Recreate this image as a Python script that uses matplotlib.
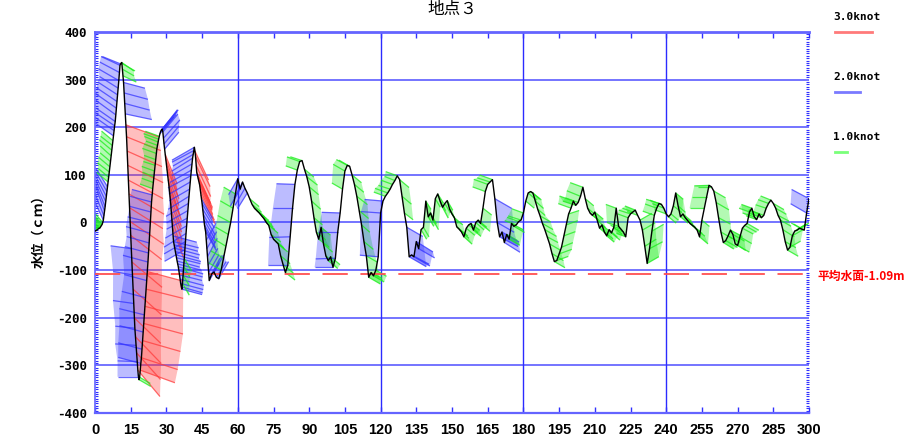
import numpy as np
import matplotlib.pyplot as plt
from matplotlib.collections import LineCollection, PolyCollection
from matplotlib.lines import Line2D
from matplotlib.ticker import MultipleLocator

# water level (cm): every 0.25 from t=0 to 47.75, then every 1 from t=48 to 300
level_early = [
    -18, -17, -17, -16, -15, -14, -13, -12,
    -12, -10, -8, -6, -4, 0, 5, 14,
    24, 33, 44, 55, 65, 75, 85, 95,
    106, 117, 128, 140, 152, 162, 172, 182,
    193, 203, 212, 226, 240, 254, 268, 282,
    298, 315, 330, 333, 335, 336, 322, 308,
    294, 272, 250, 228, 205, 180, 150, 120,
    89, 60, 31, 2, -27, -55, -83, -110,
    -140, -170, -200, -222, -240, -258, -274, -292,
    -310, -324, -330, -325, -310, -296, -284, -266,
    -248, -230, -212, -194, -176, -158, -140, -122,
    -103, -83, -64, -43, -22, 0, 22, 43,
    58, 71, 84, 96, 108, 120, 132, 145,
    155, 162, 169, 175, 181, 186, 190, 193,
    195, 196, 190, 177, 165, 154, 143, 133,
    122, 112, 101, 90, 80, 68, 57, 43,
    26, 8, -10, -28, -40, -47, -54, -61,
    -68, -74, -81, -87, -93, -101, -110, -119,
    -128, -135, -140, -128, -110, -92, -75, -57,
    -40, -23, -7, 9, 25, 40, 55, 70,
    85, 98, 110, 123, 135, 143, 151, 158,
    150, 138, 120, 105, 100, 94, 89, 84,
    78, 68, 58, 49, 40, 28, 17, 6,
    -5, -12, -20, -37, -55, -72, -90, -105,
]
level_late = [
    -122, -108, -104, -115, -118, -100, -75, -50, -25, 0,
    30, 60, 92, 70, 85, 72, 62, 50, 38, 30,
    25, 20, 14, 8, 0, -6, -25, -35, -40, -45,
    -70, -88, -105, -90, -30, 30, 80, 110, 128, 130,
    112, 96, 75, 45, 10, -20, -35, -10, -45, -70,
    -80, -72, -94, -75, -20, 20, 70, 108, 120, 118,
    100, 80, 55, 25, -5, -40, -70, -115, -105, -112,
    -100, -72, 20, 45, 55, 62, 70, 80, 88, 98,
    90, 55, 20, -10, -72, -68, -72, -40, -55, -15,
    -10, 45, 12, 20, 5, 50, 60, 45, 32, 40,
    46, 28, 18, 10, -9, -14, -20, -30, -12, -5,
    -2, -16, 0, 5, -2, 30, 65, 80, 85, 90,
    50, 0, -30, -20, -42, -25, -35, -2, -8, -5,
    2, 5, 20, 45, 62, 65, 62, 45, 28, 14,
    -2, -15, -30, -45, -65, -82, -80, -66, -52, -28,
    -5, 18, 30, 45, 36, 42, 55, 74, 50, 30,
    20, 15, 22, 5, -12, -5, -20, -28, -15, -22,
    -10, 30, -8, -14, -20, -30, 10, 18, 22, 26,
    15, 5, -16, -50, -86, -55, -18, 15, 30, 40,
    38, 30, 18, 12, 18, 35, 62, 35, 12, 18,
    10, 4, -2, -6, -10, -16, -30, 5, 30, 54,
    78, 75, 66, 42, 10, -20, -42, -38, -28, -16,
    -25, -45, -48, -30, -12, -6, -2, 22, 30, 12,
    6, 18, 10, 15, 30, 40, 47, 40, 30, 15,
    5, -15, -40, -58, -52, -28, -18, -16, -12, -14,
    -16, 20, 50,
]

# current speed (0.1 knot) and direction (deg on the chart, 0 = right, 90 = up)
speed_early = [
    9, 10, 10, 11, 10, 10, 11, 10,
    10, 11, 10, 10, 11, 12, 19, 20,
    21, 20, 19, 20, 18, 17, 12, 11,
    12, 12, 11, 12, 13, 12, 12, 18,
    19, 20, 19, 20, 21, 20, 19, 18,
    19, 18, 17, 16, 13, 12, 11, 12,
    18, 20, 21, 22, 28, 30, 31, 32,
    32, 33, 32, 33, 32, 17, 32, 16,
    31, 17, 30, 16, 30, 17, 29, 16,
    28, 17, 11, 10, 30, 19, 31, 20,
    32, 20, 33, 21, 32, 20, 31, 19,
    30, 21, 20, 19, 20, 19, 18, 18,
    17, 11, 10, 10, 11, 10, 10, 12,
    11, 10, 12, 13, 12, 18, 19, 20,
    21, 20, 19, 20, 19, 18, 26, 27,
    27, 26, 27, 28, 27, 26, 27, 26,
    26, 27, 26, 20, 21, 20, 21, 20,
    21, 20, 19, 20, 21, 20, 19, 20,
    19, 18, 17, 11, 10, 10, 12, 19,
    20, 21, 20, 19, 20, 21, 20, 19,
    20, 21, 20, 19, 20, 19, 20, 21,
    26, 27, 28, 27, 26, 27, 26, 25,
    26, 27, 26, 18, 17, 18, 19, 18,
    17, 18, 17, 16, 16, 17, 16, 17,
]
dir_early = [
    125, 128, 130, 130, 132, 130, 128, 130,
    130, 130, 128, 130, 132, 130, 115, 112,
    110, 112, 115, 118, 120, 122, 140, 140,
    142, 140, 140, 138, 140, 142, 140, 145,
    145, 146, 145, 144, 145, 146, 147, 148,
    150, 152, 155, 158, 330, 325, 330, 335,
    345, 345, 345, 348, 340, 338, 336, 334,
    332, 330, 328, 326, 322, 172, 320, 170,
    318, 172, 316, 174, 314, 176, 312, 178,
    310, 180, 330, 330, 340, 165, 342, 165,
    344, 165, 345, 166, 345, 165, 346, 165,
    345, 165, 165, 164, 165, 166, 165, 165,
    165, 160, 160, 158, 160, 162, 160, 160,
    160, 160, 158, 160, 160, 50, 48, 50,
    50, 52, 50, 48, 50, 50, 292, 290,
    290, 292, 290, 288, 290, 292, 290, 290,
    290, 288, 290, 345, 346, 345, 345, 344,
    345, 346, 345, 345, 344, 345, 346, 345,
    345, 344, 345, 300, 300, 300, 300, 210,
    210, 212, 210, 208, 210, 210, 212, 210,
    210, 208, 210, 210, 212, 210, 208, 210,
    295, 296, 295, 294, 295, 296, 295, 295,
    294, 295, 296, 300, 300, 302, 300, 300,
    300, 298, 300, 60, 60, 62, 60, 60,
]
speed_late = [
    16, 17, 16, 15, 16, 12, 12, 11, 12, 12,
    12, 11, 15, 16, 15, 16, 15, 10, 10, 11,
    10, 10, 11, 10, 9, 10, 10, 11, 10, 10,
    10, 11, 10, 16, 17, 16, 15, 10, 11, 10,
    10, 11, 10, 10, 9, 10, 11, 10, 10, 9,
    10, 10, 15, 16, 16, 15, 10, 11, 10, 10,
    10, 10, 11, 10, 9, 10, 10, 11, 10, 10,
    10, 15, 16, 15, 10, 11, 10, 10, 9, 10,
    10, 10, 9, 15, 16, 16, 15, 16, 15, 9,
    9, 8, 9, 10, 9, 8, 9, 9, 10, 9,
    9, 8, 9, 9, 10, 9, 8, 9, 9, 10,
    9, 8, 9, 9, 10, 9, 11, 12, 11, 11,
    16, 16, 17, 16, 15, 10, 10, 11, 10, 10,
    10, 11, 10, 9, 9, 10, 9, 9, 8, 10,
    10, 11, 10, 10, 11, 10, 10, 11, 10, 10,
    10, 9, 11, 12, 11, 11, 12, 11, 9, 9,
    9, 8, 9, 9, 10, 9, 9, 8, 9, 9,
    9, 9, 10, 9, 9, 8, 9, 10, 9, 9,
    9, 11, 12, 11, 11, 12, 11, 10, 10, 11,
    10, 10, 10, 8, 8, 9, 8, 8, 8, 9,
    8, 8, 9, 8, 8, 8, 9, 8, 12, 12,
    12, 11, 11, 12, 11, 11, 10, 11, 11, 11,
    11, 10, 11, 11, 10, 11, 11, 9, 9, 10,
    9, 9, 10, 9, 9, 9, 9, 10, 10, 10,
    10, 11, 10, 10, 10, 10, 11, 10, 10, 10,
    10, 15, 16,
]
dir_late = [
    60, 62, 60, 58, 60, 150, 150, 148, 150, 152,
    150, 150, 240, 240, 242, 240, 238, 320, 320, 320,
    320, 322, 320, 318, 320, 320, 322, 320, 318, 320,
    320, 320, 322, 180, 182, 180, 178, 160, 160, 162,
    320, 322, 320, 318, 320, 320, 322, 320, 318, 320,
    320, 320, 180, 182, 180, 178, 150, 150, 152, 150,
    320, 320, 322, 320, 318, 320, 330, 330, 332, 330,
    330, 175, 176, 175, 160, 160, 162, 160, 158, 160,
    320, 320, 322, 330, 330, 332, 330, 328, 330, 300,
    300, 302, 300, 298, 300, 300, 302, 300, 298, 300,
    300, 300, 302, 320, 320, 322, 320, 318, 320, 320,
    322, 320, 318, 320, 320, 322, 160, 160, 162, 160,
    330, 330, 332, 330, 328, 330, 330, 332, 330, 160,
    160, 162, 160, 320, 320, 322, 320, 318, 320, 330,
    330, 330, 332, 330, 328, 330, 20, 20, 22, 20,
    20, 18, 160, 160, 162, 160, 158, 160, 320, 320,
    320, 322, 320, 318, 320, 320, 322, 320, 318, 320,
    320, 160, 162, 160, 158, 160, 160, 162, 160, 158,
    160, 30, 30, 32, 30, 28, 30, 160, 160, 162,
    160, 158, 160, 320, 320, 322, 320, 318, 320, 320,
    322, 320, 318, 320, 320, 322, 320, 320, 180, 180,
    182, 180, 330, 330, 332, 330, 328, 330, 330, 332,
    330, 328, 330, 330, 332, 330, 330, 160, 160, 162,
    160, 158, 160, 160, 162, 160, 158, 330, 330, 332,
    330, 328, 330, 330, 30, 30, 32, 30, 28, 150,
    150, 150, 152,
]

mean_level = -109
x_ticks = list(range(0, 301, 15))
x_grid = [60, 120, 180, 240]
y_ticks = list(range(-400, 401, 100))
legend_knots = [3.0, 2.0, 1.0]
legend_labels = ['3.0knot', '2.0knot', '1.0knot']

cjk = ['Noto Sans CJK JP', 'DejaVu Sans']

t = np.concatenate([np.arange(len(level_early)) * 0.25,
                    48 + np.arange(len(level_late))])
level = np.array(level_early + level_late, dtype=float)
speed = np.array(speed_early + speed_late) / 10.0
dirs = np.array(dir_early + dir_late, dtype=float)
ang = np.radians(dirs)

W, H = 917, 440
fig = plt.figure(figsize=(W / 100, H / 100), dpi=100)
ax_l, ax_r, ax_t, ax_b = 95, 809, 32, 413
ax = fig.add_axes([ax_l / W, 1 - ax_b / H, (ax_r - ax_l) / W, (ax_b - ax_t) / H])
ax.set_xlim(0, 300)
ax.set_ylim(-400, 400)

# one knot = 12.3 px on screen
px_knot = 12.3
kx = px_knot * 300 / (ax_r - ax_l)
ky = px_knot * 800 / (ax_b - ax_t)


def knot_color(s):
    if s >= 2.5:
        return '#ff3a3a'
    if s >= 1.5:
        return '#3434ff'
    return '#18ee18'


n = len(t)
segs = []
cols = []
for ti, lv, s, a in zip(t, level, speed, ang):
    segs.append([(ti, lv), (ti + s * np.cos(a) * kx, lv + s * np.sin(a) * ky)])
    cols.append(knot_color(s))

# shade the band swept by neighbouring sticks of the same heading
polys, pcols = [], []
for i in range(n - 1):
    for j in (i + 1, i + 2):
        if j >= n:
            break
        diff = abs((dirs[j] - dirs[i] + 180) % 360 - 180)
        if diff < 45 and cols[j] == cols[i]:
            polys.append([segs[i][0], segs[i][1], segs[j][1], segs[j][0]])
            pcols.append(cols[i])
            break
ax.add_collection(PolyCollection(polys, facecolors=pcols, edgecolors='none',
                                 alpha=0.33, zorder=2))
ax.add_collection(LineCollection(segs, colors=cols, linewidths=0.9, alpha=0.75, zorder=2))

ax.plot(t, level, color='black', lw=1.0, zorder=4)

# grid
for y in y_ticks[1:-1]:
    ax.axhline(y, color='#7474ff', lw=1.4, zorder=1)
for x in x_grid:
    ax.axvline(x, color='#2b2bff', lw=1.0, zorder=1)

ax.plot([0, 300], [mean_level, mean_level], color='#ff5050', lw=1.3,
        dashes=(14, 7), zorder=3)

for side in ['top', 'bottom', 'left']:
    ax.spines[side].set_color('#6464ff')
ax.spines['top'].set_linewidth(2.0)
ax.spines['bottom'].set_linewidth(1.6)
ax.spines['left'].set_linewidth(1.2)
ax.spines['right'].set_visible(False)

ax.set_xticks(x_ticks)
ax.set_xticklabels([str(v) for v in x_ticks], fontsize=10.5, fontweight='bold',
                   family=['Liberation Sans', 'DejaVu Sans'])
ax.set_yticks(y_ticks)
ax.set_yticklabels([str(v) for v in y_ticks], fontsize=9, fontweight='bold',
                   family='DejaVu Sans Mono')
ax.yaxis.set_minor_locator(MultipleLocator(5))
ax.tick_params(axis='x', which='major', direction='in', length=4, width=1,
               color='#3030ff', top=True, bottom=True, pad=7)
ax.tick_params(axis='y', which='major', direction='in', length=0, pad=6,
               left=True, right=False)
ax.tick_params(axis='y', which='minor', direction='in', length=2, width=0.8,
               color='#3030ff', left=True, right=True)

fig.text(452 / W, 0.999, '地点３', ha='center', va='top', fontsize=12,
         family=cjk)
fig.text(38 / W, 1 - 228 / H, '水位（ｃｍ）', rotation=90, ha='center', va='center',
         fontsize=9.5, fontweight='bold', family=cjk)
fig.text(817 / W, 1 - 276 / H, '平均水面-1.09m', color='red', ha='left', va='center',
         fontsize=8.5, fontweight='bold', family=cjk)

leg_colors = ['#ff7a7a', '#7a7aff', '#7aff7a']
for i, (kn, lab) in enumerate(zip(legend_knots, legend_labels)):
    ty = 17.5 + i * 60
    fig.text(857 / W, 1 - ty / H, lab, ha='center', va='center', fontsize=8,
             fontweight='bold', family='DejaVu Sans Mono')
    x0 = 835
    fig.add_artist(Line2D([x0 / W, (x0 + kn * px_knot) / W], [1 - (ty + 14.5) / H] * 2,
                          transform=fig.transFigure, color=leg_colors[i], lw=2))

fig.savefig('out.png', dpi=100)
